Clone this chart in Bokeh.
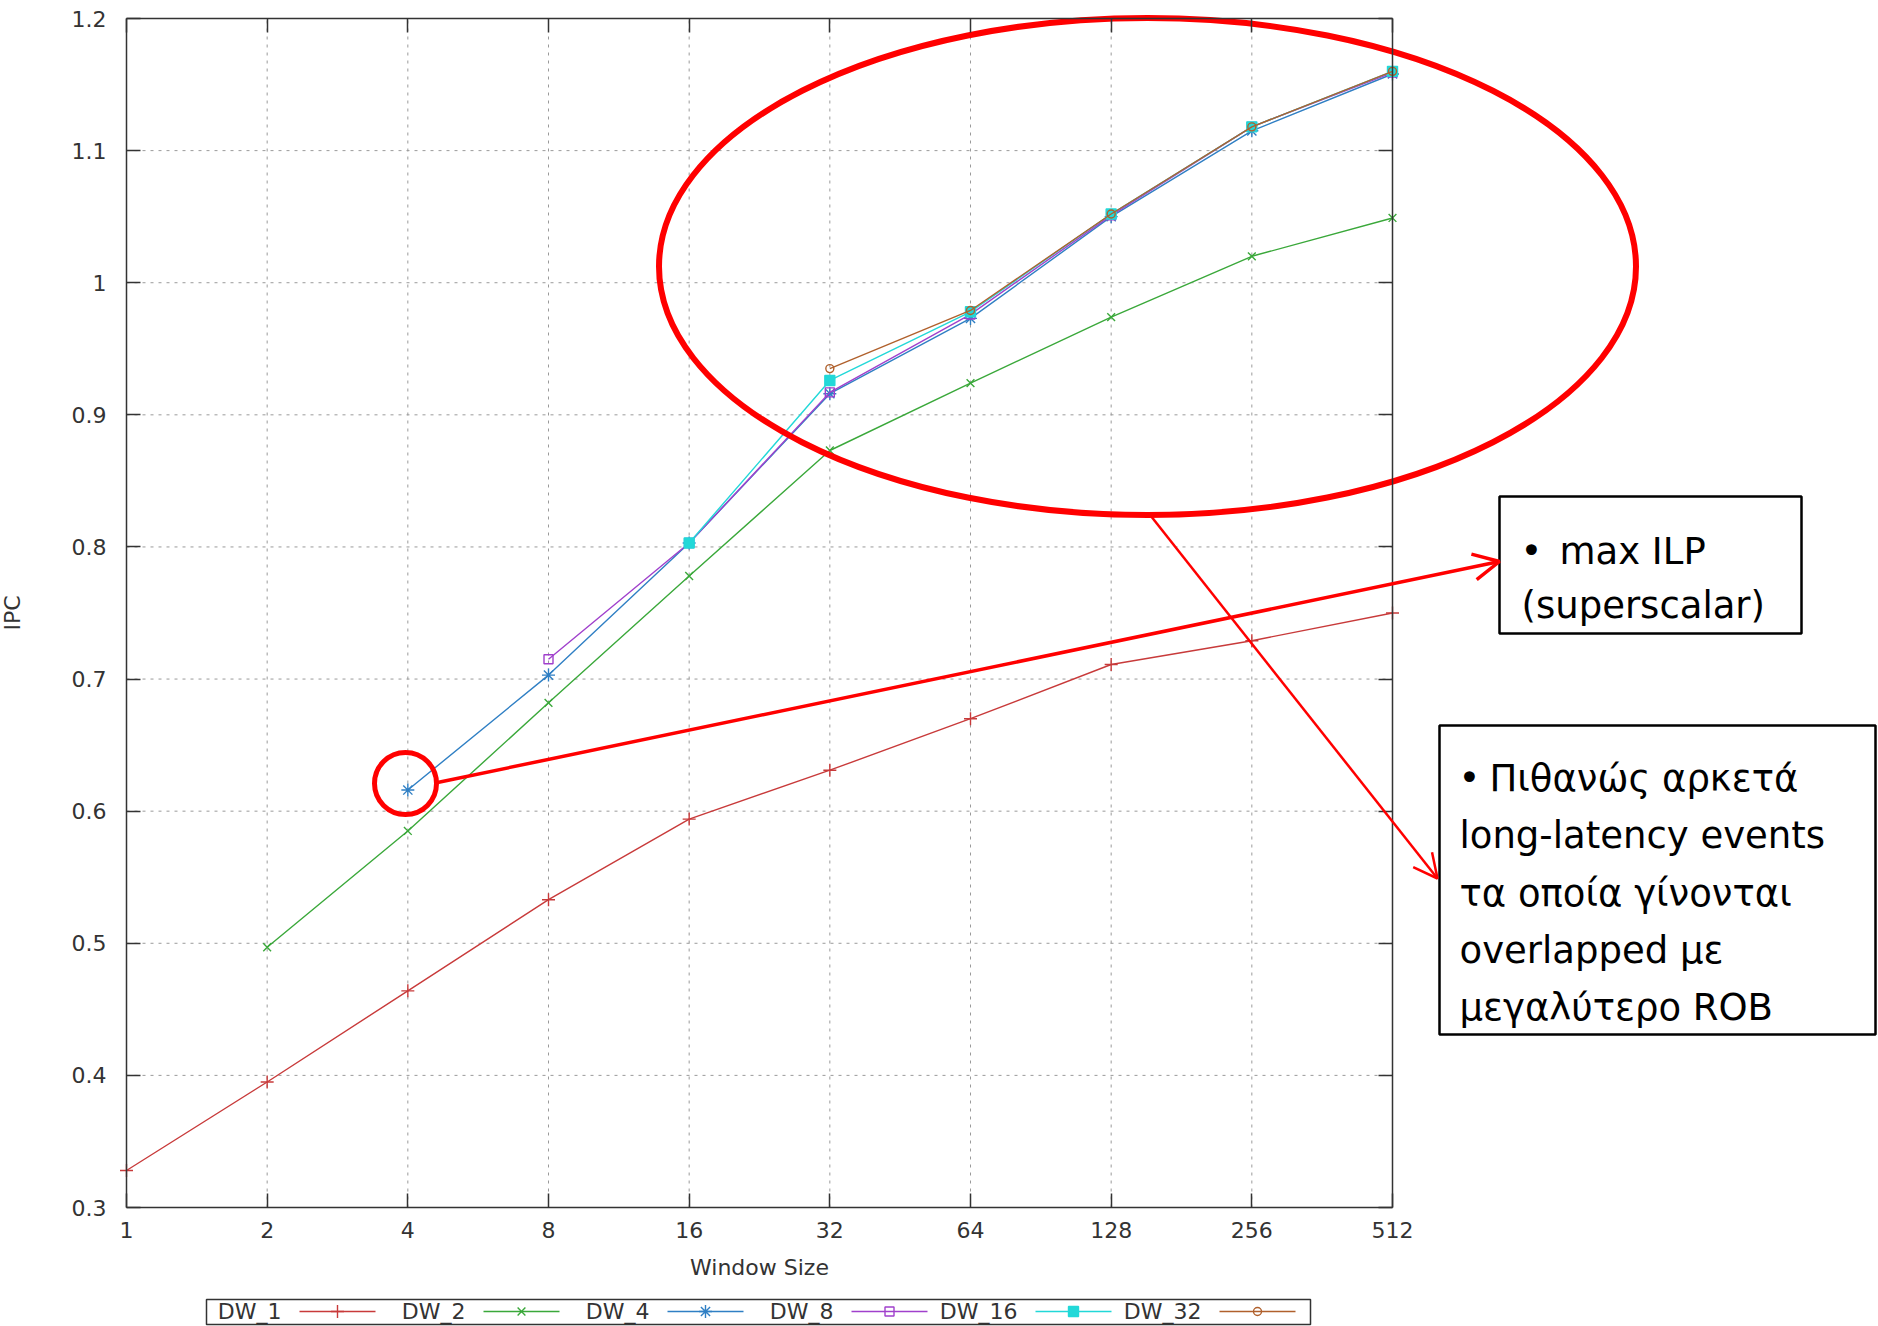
import math
from bokeh.plotting import figure
from bokeh.models import (Range1d, LogAxis, LinearAxis, FixedTicker, Grid,
                          Arrow, OpenHead)
from bokeh.core.properties import value
from bokeh.embed import file_html
from bokeh.resources import INLINE

# ---------------- data ----------------
WINDOW = [1, 2, 4, 8, 16, 32, 64, 128, 256, 512]
X_TICK_LABELS = ["1", "2", "4", "8", "16", "32", "64", "128", "256", "512"]
Y_TICKS = [0.3, 0.4, 0.5, 0.6, 0.7, 0.8, 0.9, 1.0, 1.1, 1.2]
Y_TICK_LABELS = ["0.3", "0.4", "0.5", "0.6", "0.7", "0.8", "0.9", "1", "1.1", "1.2"]

SERIES_NAMES = ["DW_1", "DW_2", "DW_4", "DW_8", "DW_16", "DW_32"]
DW_1 = [0.328, 0.395, 0.464, 0.533, 0.594, 0.631, 0.670, 0.711, 0.729, 0.750]
DW_2 = [0.497, 0.585, 0.682, 0.778, 0.873, 0.924, 0.974, 1.020, 1.049]
DW_4 = [0.616, 0.703, 0.803, 0.916, 0.973, 1.050, 1.115, 1.158]
DW_8 = [0.715, 0.803, 0.917, 0.976, 1.051, 1.118, 1.159]
DW_16 = [0.803, 0.926, 0.978, 1.052, 1.118, 1.160]
DW_32 = [0.935, 0.979, 1.052, 1.118, 1.160]
SERIES = [DW_1, DW_2, DW_4, DW_8, DW_16, DW_32]

NOTE_ILP = ["max ILP", "(superscalar)"]
NOTE_ROB = ["Πιθανώς αρκετά", "long-latency events", "τα οποία γίνονται",
            "overlapped με", "μεγαλύτερο ROB"]

# ---------------- styles ----------------
COLORS = ["#c83a3a", "#3aa83a", "#2f7fc4", "#a040cc", "#22d8d8", "#b0602c"]
MARKERS = ["cross", "x", "asterisk", "square", "square", "circle"]
MSIZES = [13, 11, 13, 9, 10, 8]
FILLED = [False, False, False, False, True, False]

W, H = 1878, 1326
L, R, T, B = 126, 1392, 18, 1207          # plot box in canvas pixels
OCT = (R - L) / math.log2(WINDOW[-1] / WINDOW[0])
PPU = (B - T) / (Y_TICKS[-1] - Y_TICKS[0])
x_lo = WINDOW[0] * 2 ** (-L / OCT)
x_hi = WINDOW[-1] * 2 ** ((W - R) / OCT)
y_hi = Y_TICKS[-1] + T / PPU
y_lo = Y_TICKS[0] - (H - B) / PPU


def X(px):
    return x_lo * 2 ** (px / OCT)


def Y(py):
    return y_hi - py / PPU


p = figure(width=W, height=H, x_axis_type="log",
           x_range=Range1d(x_lo, x_hi), y_range=Range1d(y_lo, y_hi),
           x_axis_location=None, y_axis_location=None,
           output_backend="svg", toolbar_location=None, min_border=0,
           outline_line_color=None, background_fill_color="white",
           border_fill_color="white")
p.center = [c for c in p.center if not isinstance(c, Grid)]

FONT = "DejaVu Sans"
AX_COLOR = "#333333"


def style_axis(ax, show_labels):
    ax.axis_line_color = AX_COLOR
    ax.axis_line_width = 1.5
    ax.major_tick_line_color = AX_COLOR
    ax.major_tick_line_width = 1.5
    ax.major_tick_in = 14
    ax.major_tick_out = 0
    ax.minor_tick_line_color = None
    ax.major_label_text_font = FONT
    ax.major_label_text_font_size = "22px"
    ax.major_label_text_color = AX_COLOR if show_labels else None
    ax.axis_label_text_font = FONT
    ax.axis_label_text_font_size = "22px"
    ax.axis_label_text_font_style = "normal"
    ax.axis_label_text_color = AX_COLOR


x_over = dict(zip(WINDOW, X_TICK_LABELS))
y_over = dict(zip(Y_TICKS, Y_TICK_LABELS))

xb = LogAxis(fixed_location=Y_TICKS[0], bounds=(WINDOW[0], WINDOW[-1]),
             ticker=FixedTicker(ticks=WINDOW, minor_ticks=[]),
             major_label_overrides=x_over, axis_label="Window Size",
             major_label_standoff=14, axis_label_standoff=14)
style_axis(xb, True)
p.add_layout(xb, "below")

xt = LogAxis(fixed_location=Y_TICKS[-1], bounds=(WINDOW[0], WINDOW[-1]),
             ticker=FixedTicker(ticks=WINDOW, minor_ticks=[]),
             major_label_overrides=x_over)
style_axis(xt, False)
p.add_layout(xt, "above")

yl = LinearAxis(fixed_location=WINDOW[0], bounds=(Y_TICKS[0], Y_TICKS[-1]),
                ticker=FixedTicker(ticks=Y_TICKS, minor_ticks=[]),
                major_label_overrides=y_over, axis_label="IPC",
                major_label_standoff=20, axis_label_standoff=44)
style_axis(yl, True)
p.add_layout(yl, "left")

yr = LinearAxis(fixed_location=WINDOW[-1], bounds=(Y_TICKS[0], Y_TICKS[-1]),
                ticker=FixedTicker(ticks=Y_TICKS, minor_ticks=[]),
                major_label_overrides=y_over)
style_axis(yr, False)
p.add_layout(yr, "right")

# dotted grid inside the box
gx = WINDOW[1:-1]
p.segment(x0=gx, x1=gx, y0=[Y_TICKS[0]] * len(gx), y1=[Y_TICKS[-1]] * len(gx),
          line_color="#9a9a9a", line_dash="3 5", line_width=1)
gy = Y_TICKS[1:-1]
p.segment(x0=[WINDOW[0]] * len(gy), x1=[WINDOW[-1]] * len(gy), y0=gy, y1=gy,
          line_color="#9a9a9a", line_dash="3 5", line_width=1)

# series
for name, vals, c, m, s, f in zip(SERIES_NAMES, SERIES, COLORS, MARKERS, MSIZES, FILLED):
    xs = WINDOW[len(WINDOW) - len(vals):]
    p.line(xs, vals, line_color=c, line_width=1.4)
    p.scatter(xs, vals, marker=m, size=s, line_color=c, line_width=1.4,
              fill_color=c if f else None)

# legend (gnuplot style: label then sample)
LEG_Y = 1311
p.quad(left=[X(206)], right=[X(1310)], top=[Y(1299)], bottom=[Y(1324)],
       fill_color="white", line_color=AX_COLOR, line_width=1.5)
for i, (name, c, m, s, f) in enumerate(zip(SERIES_NAMES, COLORS, MARKERS, MSIZES, FILLED)):
    off = 184 * i
    p.text(x=[X(281 + off)], y=[Y(LEG_Y)], text=[name], text_align="right",
           text_baseline="middle", text_font=value(FONT), text_font_size="22px",
           text_color=AX_COLOR)
    p.line([X(299 + off), X(375 + off)], [Y(LEG_Y), Y(LEG_Y)], line_color=c, line_width=1.4)
    p.scatter([X(337 + off)], [Y(LEG_Y)], marker=m, size=s, line_color=c,
              line_width=1.4, fill_color=c if f else None)

# ---------------- annotations ----------------
RED = "#ff0000"
p.ellipse(x=[X(1147)], y=[Y(266)], width=977, height=497,
          width_units="screen", height_units="screen",
          fill_color=None, line_color=RED, line_width=6)
p.ellipse(x=[X(405)], y=[Y(783)], width=62, height=62,
          width_units="screen", height_units="screen",
          fill_color=None, line_color=RED, line_width=5)

p.add_layout(Arrow(x_start=X(437), y_start=Y(782), x_end=X(1499), y_end=Y(561),
                   line_color=RED, line_width=3.5,
                   end=OpenHead(size=26, line_color=RED, line_width=3.5)))
p.add_layout(Arrow(x_start=X(1150), y_start=Y(515), x_end=X(1437), y_end=Y(878),
                   line_color=RED, line_width=2.5,
                   end=OpenHead(size=24, line_color=RED, line_width=2.5)))

NOTE_FONT = value("DejaVu Sans")
NOTE_SIZE = "37px"
p.quad(left=[X(1499)], right=[X(1801)], top=[Y(496)], bottom=[Y(633)],
       fill_color="white", line_color="black", line_width=2.5)
p.text(x=[X(1520)], y=[Y(551)], text=["•"], text_font=NOTE_FONT,
       text_font_size=NOTE_SIZE, text_baseline="alphabetic", text_color="black")
p.text(x=[X(1559), X(1521)], y=[Y(551), Y(605)], text=NOTE_ILP, text_font=NOTE_FONT,
       text_font_size=NOTE_SIZE, text_baseline="alphabetic", text_color="black")

p.quad(left=[X(1439)], right=[X(1875)], top=[Y(725)], bottom=[Y(1034)],
       fill_color="white", line_color="black", line_width=2.5)
p.text(x=[X(1458)], y=[Y(778)], text=["•"], text_font=NOTE_FONT,
       text_font_size=NOTE_SIZE, text_baseline="alphabetic", text_color="black")
rob_x = [X(1489)] + [X(1459)] * 4
rob_y = [Y(778), Y(835), Y(893), Y(950), Y(1007)]
p.text(x=rob_x, y=rob_y, text=NOTE_ROB, text_font=NOTE_FONT,
       text_font_size=NOTE_SIZE, text_baseline="alphabetic", text_color="black")

open("out.html", "w").write(file_html(p, INLINE))
